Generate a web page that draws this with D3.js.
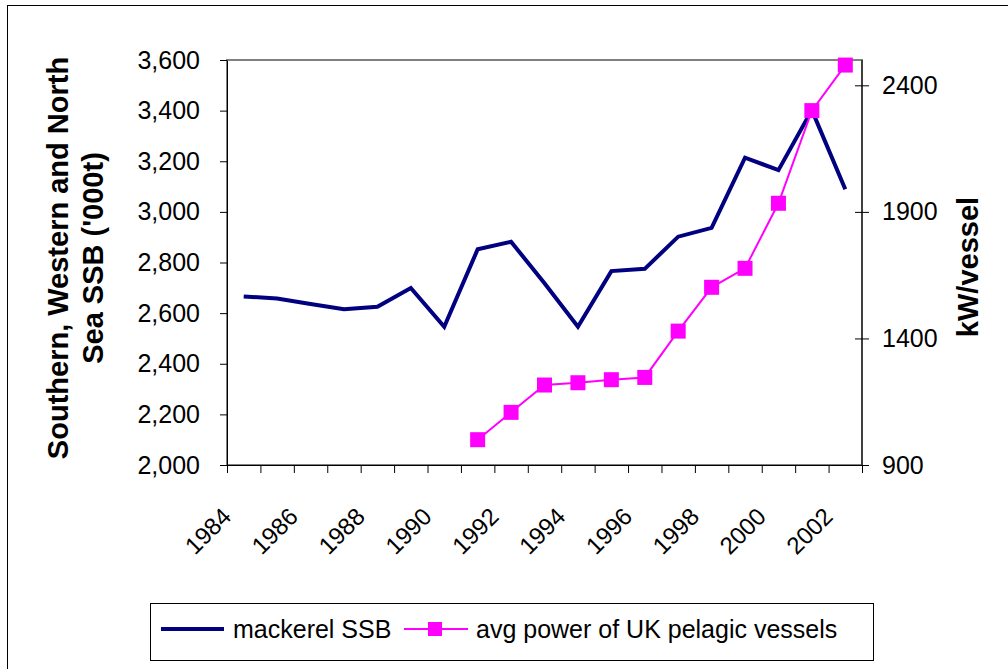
<!DOCTYPE html>
<html>
<head>
<meta charset="utf-8">
<script src="https://cdn.jsdelivr.net/npm/d3@7"></script>
<style>
  body { margin: 0; background: #fff; }
  svg { font-family: "Liberation Sans", Arial, sans-serif; }
  .axis path, .axis line { stroke: #000; }
  .axis text { font-size: 25px; fill: #000; }
  .title { font-size: 29px; font-weight: bold; }
</style>
</head>
<body>
<svg id="chart" width="1008" height="669"></svg>
<script>
// data
const years = [1984, 1985, 1986, 1987, 1988, 1989, 1990, 1991, 1992, 1993,
               1994, 1995, 1996, 1997, 1998, 1999, 2000, 2001, 2002];
const ssb = [2666, 2658, 2636, 2615, 2625, 2699, 2546, 2852, 2882, 2718,
             2546, 2766, 2775, 2902, 2937, 3214, 3165, 3402, 3089];
const powerYears = [1991, 1992, 1993, 1994, 1995, 1996, 1997, 1998, 1999, 2000, 2001, 2002];
const power = [1000, 1108, 1216, 1225, 1237, 1246, 1429, 1602, 1677, 1934, 2300, 2480];
const leftTicks = [2000, 2200, 2400, 2600, 2800, 3000, 3200, 3400, 3600];
const rightTicks = [900, 1400, 1900, 2400];
const labelYears = [1984, 1986, 1988, 1990, 1992, 1994, 1996, 1998, 2000, 2002];

const width = 1008, height = 669;
let padding = {top: 60, right: 146, bottom: 204, left: 227};

const svg = d3.select("#chart");

// outer chart border
svg.append("rect")
  .attr("x", 7.5).attr("y", 5.5)
  .attr("width", 1010).attr("height", 670)
  .attr("fill", "none").attr("stroke", "#000").attr("stroke-width", 1);

let x = d3.scaleBand()
  .domain(years)
  .range([padding.left, width - padding.right]);

let xEdge = d3.scaleLinear()
  .domain([0, years.length])
  .range([padding.left, width - padding.right]);

let y = d3.scaleLinear()
  .domain([2000, 3600])
  .range([height - padding.bottom, padding.top]);

let y2 = d3.scaleLinear()
  .domain([900, 2500])
  .range([height - padding.bottom, padding.top]);

// plot area border (grey)
svg.append("rect")
  .attr("x", padding.left).attr("y", padding.top)
  .attr("width", width - padding.right - padding.left)
  .attr("height", height - padding.bottom - padding.top)
  .attr("fill", "none").attr("stroke", "#808080").attr("stroke-width", 2);

// X axis: tick marks on the category edges
svg.append("g")
  .attr("class", "axis x")
  .attr("transform", "translate(0," + (height - padding.bottom) + ")")
  .call(d3.axisBottom(xEdge).tickValues(d3.range(years.length + 1)).tickSize(8).tickSizeOuter(0).tickFormat(""));

// X labels, rotated
svg.append("g")
  .selectAll("text")
  .data(labelYears)
  .join("text")
    .attr("transform", d => "translate(" + (x(d) + x.bandwidth() / 2 - 11) + "," + 518 + ") rotate(-45)")
    .attr("text-anchor", "end")
    .style("font-size", "24px")
    .text(d => d);

// Left axis
svg.append("g")
  .attr("class", "axis y")
  .attr("transform", "translate(" + padding.left + ",0)")
  .call(d3.axisLeft(y).tickValues(leftTicks).tickSize(7).tickSizeOuter(0).tickPadding(20).tickFormat(d3.format(",")));

// Right axis
let rightAxis = svg.append("g")
  .attr("class", "axis y2")
  .attr("transform", "translate(" + (width - padding.right) + ",0)")
  .call(d3.axisRight(y2).tickValues(rightTicks).tickSize(7).tickSizeOuter(0).tickPadding(13).tickFormat(d3.format("d")));
rightAxis.selectAll(".tick line").attr("x1", -7);
rightAxis.select(".domain").attr("d", "M0," + padding.top + "V" + (height - padding.bottom));

// mackerel SSB line
svg.append("path")
  .datum(years.map((yr, i) => ({year: yr, v: ssb[i]})))
  .attr("fill", "none")
  .attr("stroke", "#000080")
  .attr("stroke-width", 4)
  .attr("d", d3.line()
    .x(d => x(d.year) + x.bandwidth() / 2)
    .y(d => y(d.v)));

// pelagic power line + markers
const pw = powerYears.map((yr, i) => ({year: yr, v: power[i]}));
svg.append("path")
  .datum(pw)
  .attr("fill", "none")
  .attr("stroke", "#FF00FF")
  .attr("stroke-width", 2)
  .attr("d", d3.line()
    .x(d => x(d.year) + x.bandwidth() / 2)
    .y(d => y2(d.v)));

svg.selectAll(".marker")
  .data(pw)
  .join("rect")
    .attr("class", "marker")
    .attr("x", d => x(d.year) + x.bandwidth() / 2 - 7.5)
    .attr("y", d => y2(d.v) - 7.5)
    .attr("width", 15).attr("height", 15)
    .attr("fill", "#FF00FF");

// axis titles
let lt = svg.append("text")
  .attr("class", "title")
  .attr("transform", "translate(68," + 258 + ") rotate(-90)")
  .attr("text-anchor", "middle");
lt.append("tspan").attr("x", 0).attr("dy", 0).text("Southern, Western and North");
lt.append("tspan").attr("x", 0).attr("dy", 35).text("Sea SSB ('000t)");

svg.append("text")
  .attr("class", "title")
  .attr("transform", "translate(978," + 267 + ") rotate(-90)")
  .attr("text-anchor", "middle")
  .text("kW/vessel");

// legend
let legend = svg.append("g");
legend.append("rect")
  .attr("x", 150.5).attr("y", 603.5)
  .attr("width", 723).attr("height", 57)
  .attr("fill", "#fff").attr("stroke", "#000").attr("stroke-width", 1);
legend.append("line")
  .attr("x1", 161).attr("x2", 224).attr("y1", 629).attr("y2", 629)
  .attr("stroke", "#000080").attr("stroke-width", 4);
legend.append("text")
  .attr("x", 233).attr("y", 638)
  .style("font-size", "25px")
  .text("mackerel SSB");
legend.append("line")
  .attr("x1", 404).attr("x2", 468).attr("y1", 629).attr("y2", 629)
  .attr("stroke", "#FF00FF").attr("stroke-width", 2);
legend.append("rect")
  .attr("x", 428).attr("y", 622).attr("width", 14).attr("height", 14)
  .attr("fill", "#FF00FF");
legend.append("text")
  .attr("x", 476).attr("y", 638)
  .style("font-size", "25px")
  .text("avg power of UK pelagic vessels");
</script>
</body>
</html>
